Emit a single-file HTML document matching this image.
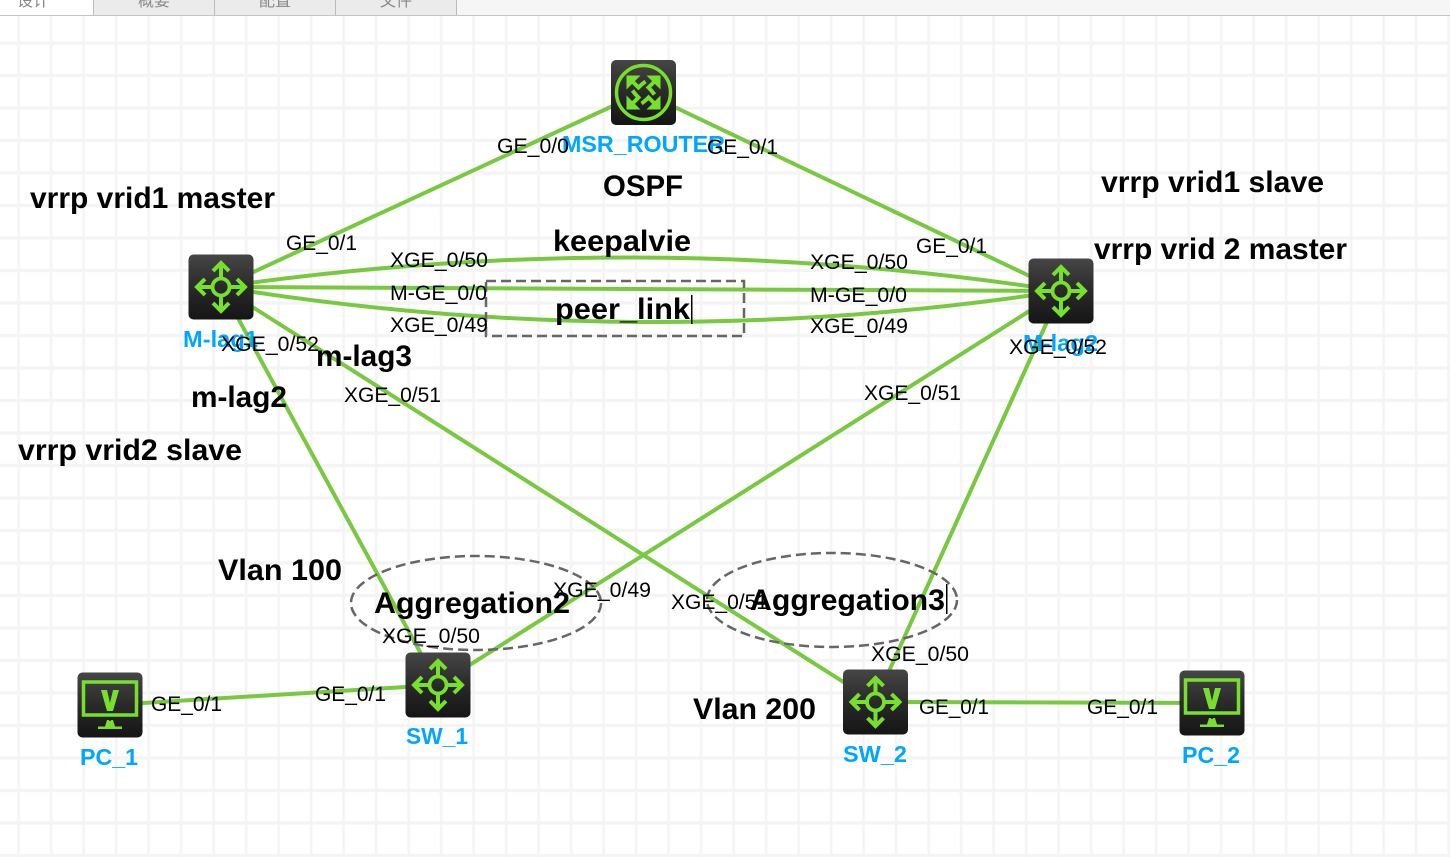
<!DOCTYPE html>
<html><head><meta charset="utf-8"><style>
html,body{margin:0;padding:0;background:#fff;width:1450px;height:857px;overflow:hidden}
svg{display:block;font-family:"Liberation Sans","Noto Sans CJK SC",sans-serif}
.l{font-size:21px;fill:#000}
.b{font-size:30px;font-weight:bold;fill:#000}
.n{font-size:23.500px;font-weight:bold;fill:#00a6ff}
.t{font-size:16px;fill:#888;text-anchor:middle}
</style></head><body>
<svg width="1450" height="857" viewBox="0 0 1450 857" xmlns="http://www.w3.org/2000/svg">
<defs>
<pattern id="g" x="17.300" y="8.800" width="32.500" height="32.500" patternUnits="userSpaceOnUse">
<rect x="0" y="0" width="2.700" height="32.500" fill="#f4f4f4"/><rect x="0" y="0" width="32.500" height="3.300" fill="#f4f4f4"/>
</pattern>
<linearGradient id="ig" x1="0" y1="0" x2="0" y2="1"><stop offset="0" stop-color="#464646"/><stop offset=".5" stop-color="#2a2a2a"/><stop offset="1" stop-color="#151515"/></linearGradient>
<g id="sw">
<rect x="-32.500" y="-32.500" width="65" height="65" rx="5" fill="url(#ig)"/>
<circle r="8.500" fill="none" stroke="#76e02c" stroke-width="3.800"/>
<g fill="none" stroke="#76e02c" stroke-width="4">
<path d="M0-10V-24M-8-16L0-24L8-16M0 10V24M-8 16L0 24L8 16M-10 0H-24M-16-8L-24 0L-16 8M10 0H24M16-8L24 0L16 8"/>
</g></g>
<g id="rt">
<rect x="-32.500" y="-32.500" width="65" height="65" rx="5" fill="url(#ig)"/>
<circle r="27" fill="none" stroke="#76e02c" stroke-width="3.500"/>
<g fill="#76e02c"><path d="M-17-17H-3L-17-3ZM17-17H3L17-3ZM-17 17H-3L-17 3ZM17 17H3L17 3Z"/></g>
<g fill="none" stroke="#76e02c" stroke-width="4"><path d="M-11-11L-5-5Q-1-9 2-11M11-11L5-5Q8-2 11 2M11 11L5 5Q1 9-2 11M-11 11L-5 5Q-8 2-11-2"/></g>
</g>
<g id="pc">
<rect x="-32.500" y="-32.500" width="65" height="65" rx="5" fill="url(#ig)"/>
<rect x="-26.500" y="-23" width="53" height="33" fill="none" stroke="#76e02c" stroke-width="3.500"/>
<path d="M-9-15H-3L0-2L3-15H9L3 6H-3Z" fill="#76e02c"/>
<path d="M-12 24V21.500H-5L-3 15H3L5 21.500H12V24Z" fill="#76e02c"/>
<circle cy="15" r="1" fill="#111"/>
</g>
</defs>
<rect width="1450" height="857" fill="#fff"/>
<rect width="1450" height="857" fill="url(#g)"/>

<rect x="0" y="0" width="1450" height="15" fill="#f6f6f6"/>
<rect x="0" y="0" width="93" height="15" fill="#fff"/>
<rect x="94" y="0" width="120" height="15" fill="#ebebeb"/>
<rect x="215" y="0" width="120" height="15" fill="#ebebeb"/>
<rect x="336" y="0" width="120" height="15" fill="#ebebeb"/>
<path d="M93.500 0V15M214.500 0V15M335.500 0V15M456.500 0V15" stroke="#bbb" stroke-width="1"/>
<rect x="0" y="15" width="1450" height="1" fill="#c4c4c4"/>
<text class="t" x="33" y="6">设计</text>
<text class="t" x="154" y="6">概要</text>
<text class="t" x="275" y="6">配置</text>
<text class="t" x="396" y="6">文件</text>

<g fill="none" stroke="#78c93f" stroke-width="4">
<path d="M643 92L221 287M643 92L1061 291"/>
<path d="M221 287Q641 226 1061 291M221 287L1061 291M221 287Q641 355 1061 291"/>
<path d="M221 287L438 685M221 287L875 702M1061 291L438 685M1061 291L875 702"/>
<path d="M110 705L438 685M875 702L1212 703"/>
</g>

<g fill="none" stroke="#666" stroke-width="2.500" stroke-dasharray="10 5">
<rect x="486" y="281" width="258" height="55"/>
<ellipse cx="476" cy="603" rx="125" ry="47"/>
<ellipse cx="832" cy="600" rx="125" ry="47"/>
</g>

<use href="#rt" x="643.500" y="92.500"/>
<use href="#sw" x="221" y="287"/>
<use href="#sw" x="1061" y="291"/>
<use href="#sw" x="438" y="685"/>
<use href="#sw" x="875.500" y="702"/>
<use href="#pc" x="110" y="705"/>
<use href="#pc" x="1212" y="703"/>

<text class="n" x="562" y="152" textLength="163" lengthAdjust="spacingAndGlyphs">MSR_ROUTER</text>
<text class="n" x="183" y="347" textLength="75" lengthAdjust="spacingAndGlyphs">M-lag1</text>
<text class="n" x="1023" y="351" textLength="75" lengthAdjust="spacingAndGlyphs">M-lag2</text>
<text class="n" x="406" y="744" textLength="62" lengthAdjust="spacingAndGlyphs">SW_1</text>
<text class="n" x="843" y="762" textLength="64" lengthAdjust="spacingAndGlyphs">SW_2</text>
<text class="n" x="80" y="765" textLength="58" lengthAdjust="spacingAndGlyphs">PC_1</text>
<text class="n" x="1182" y="763" textLength="58" lengthAdjust="spacingAndGlyphs">PC_2</text>

<text class="l" x="497" y="153" textLength="72" lengthAdjust="spacingAndGlyphs">GE_0/0</text>
<text class="l" x="707" y="154" textLength="71" lengthAdjust="spacingAndGlyphs">GE_0/1</text>
<text class="l" x="286" y="250" textLength="71" lengthAdjust="spacingAndGlyphs">GE_0/1</text>
<text class="l" x="916" y="253" textLength="71" lengthAdjust="spacingAndGlyphs">GE_0/1</text>
<text class="l" x="390" y="267" textLength="98" lengthAdjust="spacingAndGlyphs">XGE_0/50</text>
<text class="l" x="390" y="300" textLength="97" lengthAdjust="spacingAndGlyphs">M-GE_0/0</text>
<text class="l" x="390" y="332" textLength="98" lengthAdjust="spacingAndGlyphs">XGE_0/49</text>
<text class="l" x="810" y="269" textLength="98" lengthAdjust="spacingAndGlyphs">XGE_0/50</text>
<text class="l" x="810" y="302" textLength="97" lengthAdjust="spacingAndGlyphs">M-GE_0/0</text>
<text class="l" x="810" y="333" textLength="98" lengthAdjust="spacingAndGlyphs">XGE_0/49</text>
<text class="l" x="221" y="351" textLength="98" lengthAdjust="spacingAndGlyphs">XGE_0/52</text>
<text class="l" x="1009" y="354" textLength="98" lengthAdjust="spacingAndGlyphs">XGE_0/52</text>
<text class="l" x="344" y="402" textLength="97" lengthAdjust="spacingAndGlyphs">XGE_0/51</text>
<text class="l" x="864" y="400" textLength="97" lengthAdjust="spacingAndGlyphs">XGE_0/51</text>
<text class="l" x="553" y="597" textLength="98" lengthAdjust="spacingAndGlyphs">XGE_0/49</text>
<text class="l" x="382" y="643" textLength="98" lengthAdjust="spacingAndGlyphs">XGE_0/50</text>
<text class="l" x="671" y="609" textLength="97" lengthAdjust="spacingAndGlyphs">XGE_0/51</text>
<text class="l" x="871" y="661" textLength="98" lengthAdjust="spacingAndGlyphs">XGE_0/50</text>
<text class="l" x="151" y="711" textLength="71" lengthAdjust="spacingAndGlyphs">GE_0/1</text>
<text class="l" x="315" y="701" textLength="71" lengthAdjust="spacingAndGlyphs">GE_0/1</text>
<text class="l" x="919" y="714" textLength="70" lengthAdjust="spacingAndGlyphs">GE_0/1</text>
<text class="l" x="1087" y="714" textLength="71" lengthAdjust="spacingAndGlyphs">GE_0/1</text>

<text class="b" x="603" y="196" textLength="80" lengthAdjust="spacingAndGlyphs">OSPF</text>
<text class="b" x="30" y="208" textLength="245" lengthAdjust="spacingAndGlyphs">vrrp vrid1 master</text>
<text class="b" x="1101" y="192" textLength="223" lengthAdjust="spacingAndGlyphs">vrrp vrid1 slave</text>
<text class="b" x="1094" y="259" textLength="253" lengthAdjust="spacingAndGlyphs">vrrp vrid 2 master</text>
<text class="b" x="553" y="251" textLength="138" lengthAdjust="spacingAndGlyphs">keepalvie</text>
<text class="b" x="555" y="319" textLength="135" lengthAdjust="spacingAndGlyphs">peer_link</text>
<text class="b" x="316" y="366" textLength="96" lengthAdjust="spacingAndGlyphs">m-lag3</text>
<text class="b" x="191" y="407" textLength="96" lengthAdjust="spacingAndGlyphs">m-lag2</text>
<text class="b" x="18" y="460" textLength="224" lengthAdjust="spacingAndGlyphs">vrrp vrid2 slave</text>
<text class="b" x="218" y="580" textLength="124" lengthAdjust="spacingAndGlyphs">Vlan 100</text>
<text class="b" x="374" y="613" textLength="196" lengthAdjust="spacingAndGlyphs">Aggregation2</text>
<text class="b" x="750" y="610" textLength="195" lengthAdjust="spacingAndGlyphs">Aggregation3</text>
<text class="b" x="693" y="719" textLength="123" lengthAdjust="spacingAndGlyphs">Vlan 200</text>

<rect x="691" y="295" width="1.500" height="29" fill="#000"/>
<rect x="946" y="584" width="1.500" height="30" fill="#000"/>
</svg>
</body></html>
